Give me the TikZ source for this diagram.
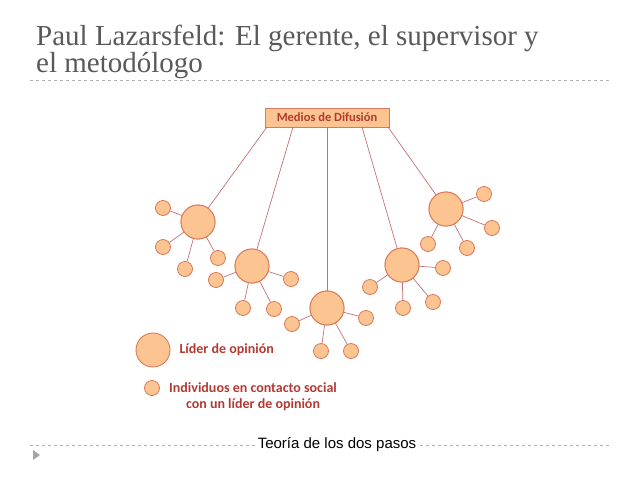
\documentclass[tikz,border=0pt]{standalone}
\usepackage{fontspec}
\setmainfont{Liberation Serif}
\newfontfamily\carl{Carlito}
\newfontfamily\arialf{Liberation Sans}
\definecolor{fillc}{HTML}{FBC490}
\definecolor{edgec}{HTML}{D9785A}
\definecolor{linec}{HTML}{C47078}
\definecolor{txtc}{HTML}{B23A32}
\definecolor{titc}{HTML}{595959}
\tikzset{
 big/.style={circle,draw=edgec,fill=fillc,line width=0.9pt,minimum size=34pt,inner sep=0},
 small/.style={circle,draw=edgec,fill=fillc,line width=0.8pt,minimum size=15pt,inner sep=0},
 ln/.style={draw=linec,line width=0.7pt},
 lbl/.style={text=txtc,font=\carl\fontsize{14}{16}\selectfont\bfseries},
 sep/.style={draw=gray!60,dashed,line width=0.6pt}
}
\begin{document}
\begin{tikzpicture}[x=1pt,y=-1pt]
\useasboundingbox (0,0) rectangle (640,480);
\node[anchor=base west,text=titc,font=\fontsize{29}{27}\selectfont,align=left,inner sep=0] (title) at (36,72) {Paul Lazarsfeld: El gerente, el supervisor y\\el metodólogo};
\draw[sep] (30,80) -- (610,80);
\draw[sep] (30,445) -- (610,445);
\node[fill=white,font=\arialf\fontsize{15}{17}\selectfont,inner sep=1pt] (cap) at (337,445) {Teoría de los dos pasos};
\fill[gray!70] (33,450) -- (33,460) -- (40,455) -- cycle;
\node[draw=edgec,fill=fillc,line width=0.9pt,minimum width=124pt,minimum height=19pt,text=txtc,inner sep=0,font=\carl\fontsize{12.5}{14}\selectfont\bfseries] (m) at (327,117.5) {Medios de Difusión};
\foreach \n/\x/\y/\sx in {a/198/222/267,b/252/266/293,c/327/308/327,d/402/265/362,e/446/209/388}{
  \coordinate (s\n) at (\sx,127);
  \node[big] (\n) at (\x,\y) {};
}
\foreach \n in {a,b,c,d,e}{ \draw[ln] (s\n) -- (\n); }
\foreach \p/\x/\y/\k in {a/163/208/1,a/163/247/2,a/185/269/3,a/218/258/4,
 b/216/280/1,b/291/279/2,b/243/308/3,b/274/309/4,
 c/292/324/1,c/366/318/2,c/321/351/3,c/351/351/4,
 d/370/287/1,d/443/268/2,d/403/308/3,d/433/302/4,
 e/484/194/1,e/492/228/2,e/428/244/3,e/467/248/4}{
  \node[small] (\p\k) at (\x,\y) {};
  \draw[ln] (\p) -- (\p\k);
}
\foreach \n in {a,b,c,d,e}{ \node[big] at (\n) {}; }
\node[big] (lg1) at (153,350) {};
\node[lbl,anchor=west] (lt1) at (176,350) {Líder de opinión};
\node[small] (lg2) at (152,388) {};
\node[lbl,align=center] (lt2) at (253,397) {Individuos en contacto social\\con un líder de opinión};
\end{tikzpicture}
\end{document}
